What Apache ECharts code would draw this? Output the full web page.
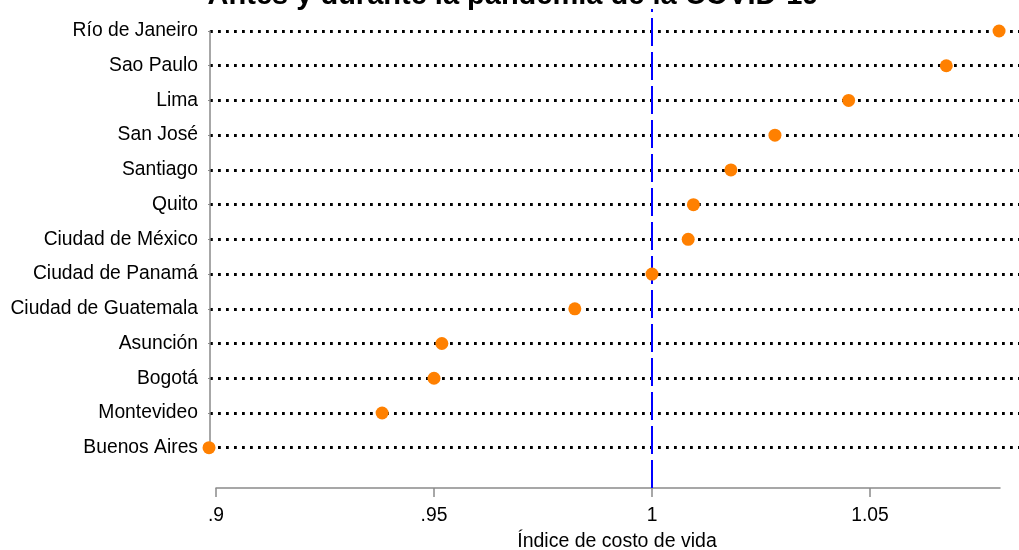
<!DOCTYPE html>
<html><head><meta charset="utf-8">
<script src="https://cdn.jsdelivr.net/npm/echarts@6/dist/echarts.min.js"></script>
<style>html,body{margin:0;padding:0;background:#fff}#c{width:1019px;height:550px}</style>
</head><body><div id="c"></div>
<script>
const cities = ['Río de Janeiro','Sao Paulo','Lima','San José','Santiago','Quito','Ciudad de México','Ciudad de Panamá','Ciudad de Guatemala','Asunción','Bogotá','Montevideo','Buenos Aires'];
const costIndex = [1.0796,1.0675,1.0451,1.0282,1.0181,1.0095,1.0083,1.0000,0.9823,0.9518,0.9500,0.9381,0.8984];
const tickValues = [0.9,0.95,1,1.05];
const tickLabels = ['.9','.95','1','1.05'];
const refValue = 1;
const titleText = 'Antes y durante la pandemia de la COVID-19';
const xTitle = 'Índice de costo de vida';

const FONT = '"Liberation Sans", Arial, Helvetica, sans-serif';
const PX = 4360; // pixels per unit
const plotMin = 0.9 - 6/PX, plotMax = plotMin + 809/PX;
const axMin = 0.9, axMax = 0.9 + 784/PX;

const chart = echarts.init(document.getElementById('c'));
chart.setOption({
  animation:false,
  backgroundColor:'#fff',
  graphic:[
    {type:'text', x:513, y:-4, style:{text:titleText, font:'bold 29px '+FONT, fill:'#000', align:'center', verticalAlign:'middle'}},
    {type:'text', x:617, y:542, style:{text:xTitle, font:'19.5px '+FONT, fill:'#000', align:'center', verticalAlign:'middle'}}
  ],
  grid:[
    {left:210, right:0, top:31, height:416.7},
    {left:216, width:784, top:470, height:18},
    {left:210, right:0, top:9, height:479}
  ],
  xAxis:[
    {gridIndex:0, type:'value', min:plotMin, max:plotMax, show:false},
    {gridIndex:1, type:'value', min:axMin, max:axMax,
      axisLine:{show:true, lineStyle:{color:'#8a8a8a', width:1.5}},
      axisTick:{show:true, length:9, customValues:tickValues, lineStyle:{color:'#8a8a8a', width:1.5}},
      axisLabel:{show:true, customValues:tickValues, margin:18, fontSize:19.3, fontFamily:FONT, color:'#000',
        formatter:(v)=>{const i=tickValues.findIndex(t=>Math.abs(t-v)<1e-6); return i>=0?tickLabels[i]:'';}},
      splitLine:{show:false}},
    {gridIndex:2, type:'value', min:plotMin, max:plotMax, show:false}
  ],
  yAxis:[
    {gridIndex:0, type:'category', data:cities, inverse:true, boundaryGap:false,
      axisLine:{show:true, lineStyle:{color:'#8a8a8a', width:1.5}},
      axisTick:{show:true, length:2, lineStyle:{color:'#8a8a8a', width:1}},
      axisLabel:{margin:12, fontSize:19.3, fontFamily:FONT, color:'#000'},
      splitLine:{show:true, lineStyle:{color:'#000', width:2.8, type:[2.8,5.2]}}},
    {gridIndex:1, type:'value', show:false},
    {gridIndex:2, type:'value', min:0, max:1, show:false}
  ],
  series:[
    {type:'line', xAxisIndex:2, yAxisIndex:2, data:[[refValue,0],[refValue,1]], symbol:'none', z:2,
      lineStyle:{color:'#0000ff', width:2, type:[28,6]}},
    {type:'scatter', xAxisIndex:0, yAxisIndex:0, z:5, symbolSize:13, clip:false,
      itemStyle:{color:'#ff8000', opacity:1},
      data:costIndex.map((v,i)=>[v,cities[i]])}
  ]
});
</script></body></html>
